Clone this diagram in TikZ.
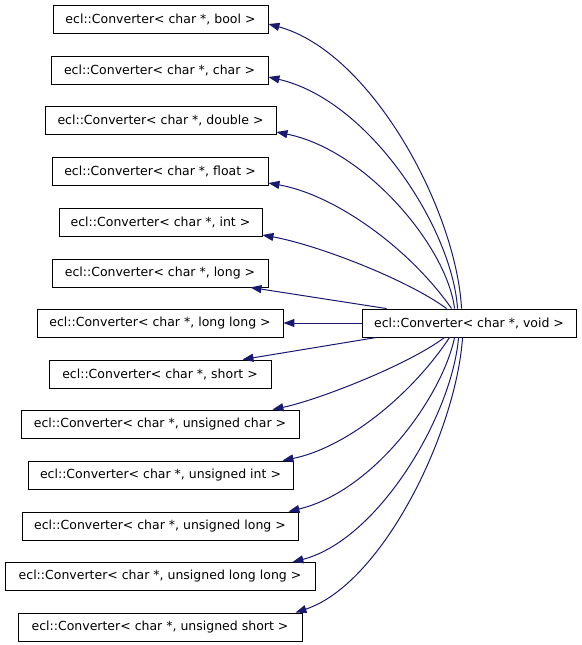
\documentclass[tikz,border=0pt]{standalone}
\usepackage{fontspec}
\setmainfont{DejaVu Sans}
\usetikzlibrary{arrows.meta,calc}
\definecolor{edgeblue}{RGB}{25,25,112}
\begin{document}
\begin{tikzpicture}[x=1pt,y=-1pt,
  box/.style={draw=black,line width=0.9pt,fill=white,rectangle,minimum height=28pt,inner sep=0pt,font=\fontsize{12.5}{15}\selectfont},
  edge/.style={draw=edgeblue,line width=1pt,-{Triangle[length=11pt,width=8pt]}}]
\useasboundingbox (0,0) rectangle (581,645);
\node[box,minimum width=215pt] (bool) at (160.5,19) {ecl::Converter< char *, bool >};
\node[box,minimum width=217pt] (char) at (159.5,70) {ecl::Converter< char *, char >};
\node[box,minimum width=231pt] (double) at (160.5,120.5) {ecl::Converter< char *, double >};
\node[box,minimum width=216pt] (float) at (160,171) {ecl::Converter< char *, float >};
\node[box,minimum width=203pt] (int) at (160.5,222) {ecl::Converter< char *, int >};
\node[box,minimum width=216pt] (long) at (160,273) {ecl::Converter< char *, long >};
\node[box,minimum width=246pt] (longlong) at (160,323) {ecl::Converter< char *, long long >};
\node[box,minimum width=222pt] (short) at (160,374) {ecl::Converter< char *, short >};
\node[box,minimum width=278pt] (uchar) at (160,424) {ecl::Converter< char *, unsigned char >};
\node[box,minimum width=265pt] (uint) at (160.5,475) {ecl::Converter< char *, unsigned int >};
\node[box,minimum width=276pt] (ulong) at (160,526) {ecl::Converter< char *, unsigned long >};
\node[box,minimum width=310pt] (ull) at (160,576.5) {ecl::Converter< char *, unsigned long long >};
\node[box,minimum width=284pt] (us) at (160,627) {ecl::Converter< char *, unsigned short >};
\node[box,minimum width=214pt] (void) at (469,323) {ecl::Converter< char *, void >};

\draw[edge] ($(void.north west)+(100,0)$) .. controls (456,209) and (371,52) .. ($(bool.east)+(0,5)$);
\draw[edge] ($(void.north west)+(96,0)$) .. controls (452,228) and (369,100) .. ($(char.east)+(0,7)$);
\draw[edge] ($(void.north west)+(93,0)$) .. controls (447,247) and (366,150) .. ($(double.east)+(0,11.5)$);
\draw[edge] ($(void.north west)+(90,0)$) .. controls (410,249) and (336,195) .. ($(float.east)+(0,12)$);
\draw[edge] ($(void.north west)+(85,0)$) .. controls (408,280) and (318,245) .. ($(int.east)+(0,13)$);
\draw[edge] ($(void.north west)+(25,0)$) -- ($(long.south east)+(-18,0)$);
\draw[edge] (void.west) -- (longlong.east);
\draw[edge] ($(void.south west)+(15,0)$) -- ($(short.north east)+(-29,0)$);
\draw[edge] ($(void.south west)+(83,0)$) .. controls (408,365) and (318,400) .. ($(uchar.north east)+(-27,0)$);
\draw[edge] ($(void.south west)+(88,0)$) .. controls (410,397) and (345,448) .. ($(uint.north east)+(-11,0)$);
\draw[edge] ($(void.south west)+(93,0)$) .. controls (442,397) and (374,491) .. ($(ulong.north east)+(-10,0)$);
\draw[edge] ($(void.south west)+(97,0)$) .. controls (452,416) and (378,540) .. ($(ull.north east)+(-23,0)$);
\draw[edge] ($(void.south west)+(101,0)$) .. controls (456,433) and (382,584) .. ($(us.north east)+(-7,0)$);
\end{tikzpicture}
\end{document}
